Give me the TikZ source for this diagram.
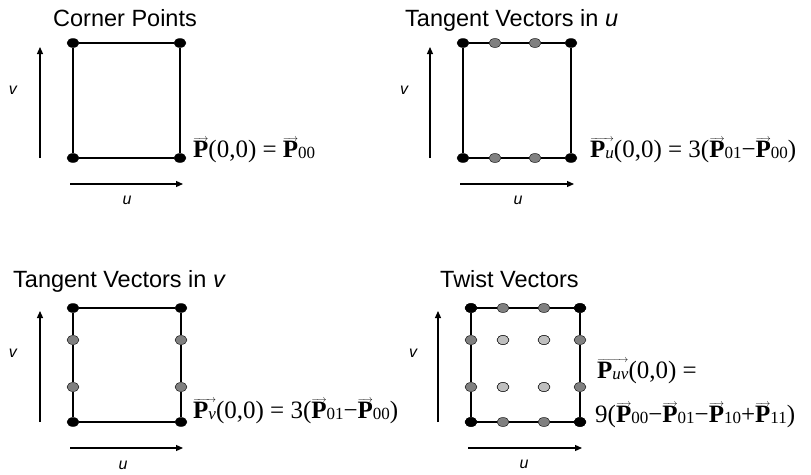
\documentclass[tikz,border=0pt]{standalone}
\usepackage{fontspec}
\setmainfont{Liberation Serif}
\newfontfamily\arialfont{Liberation Sans}
\usetikzlibrary{arrows.meta,shapes.geometric}

\newcommand{\idx}[1]{\raisebox{-1pt}{\normalfont\fontsize{17}{17}\selectfont #1}}
\newcommand{\vecP}[1][]{\setbox0\hbox{\bfseries P#1}%
  \leavevmode\vbox{\offinterlineskip
    \hbox to\wd0{\fontsize{10}{10}\selectfont\rightarrowfill}\kern-0.5pt\box0}}

\begin{document}
\begin{tikzpicture}[
  x=1pt, y=-1pt,
  title/.style={anchor=base west, inner sep=0pt, font=\arialfont\fontsize{23.5}{28}\selectfont},
  axislabel/.style={inner sep=0pt, font=\arialfont\itshape\fontsize{16}{18}\selectfont},
  eqn/.style={anchor=base west, inner sep=0pt, font=\fontsize{25}{29}\selectfont},
  cpt/.style={ellipse, draw, fill=black, minimum width=12pt, minimum height=9pt, inner sep=0pt},
  ept/.style={cpt, fill=gray},
  ipt/.style={cpt, fill=lightgray},
  edge/.style={line width=1.2pt},
  axis/.style={-{Triangle[length=7pt,width=6pt]}, line width=1.2pt}
]
  \useasboundingbox (0,0) rectangle (811,474);

  % corner points
  \node[title] (t1) at (53,26) {Corner Points};
  \node[cpt] (a00) at (73,158) {};
  \node[cpt] (a30) at (180,158) {};
  \node[cpt] (a03) at (73,43) {};
  \node[cpt] (a33) at (180,43) {};
  \draw[edge] (a00) -- (a30) -- (a33) -- (a03) -- (a00);
  \coordinate (av0) at (40,158);
  \coordinate (av1) at (40,47);
  \coordinate (au0) at (70,184);
  \coordinate (au1) at (183,184);
  \draw[axis] (av0) -- (av1);
  \draw[axis] (au0) -- (au1);
  \node[axislabel] (alv) at (13,90) {v};
  \node[axislabel] (alu) at (127,200) {u};
  \node[eqn] (eq1) at (193,157) {\vecP(0,0) = \vecP\idx{00}};

  % tangent vectors in u
  \node[title] (t2) at (405,26) {Tangent Vectors in \textit{u}};
  \node[cpt] (b00) at (463,158) {};
  \node[ept] (b10) at (495,158) {};
  \node[ept] (b20) at (535,158) {};
  \node[cpt] (b30) at (571,158) {};
  \node[cpt] (b03) at (463,43) {};
  \node[ept] (b13) at (495,43) {};
  \node[ept] (b23) at (535,43) {};
  \node[cpt] (b33) at (571,43) {};
  \draw[edge] (b00) -- (b10) -- (b20) -- (b30) -- (b33) -- (b23) -- (b13) -- (b03) -- (b00);
  \coordinate (bv0) at (430,158);
  \coordinate (bv1) at (430,47);
  \coordinate (bu0) at (460,184);
  \coordinate (bu1) at (574,184);
  \draw[axis] (bv0) -- (bv1);
  \draw[axis] (bu0) -- (bu1);
  \node[axislabel] (blv) at (404,90) {v};
  \node[axislabel] (blu) at (518,200) {u};
  \node[eqn] (eq2) at (590,157) {\vecP[\idx{\itshape u}](0,0) = 3(\vecP\idx{01}−\vecP\idx{00})};

  % tangent vectors in v
  \node[title] (t3) at (13,287) {Tangent Vectors in \textit{v}};
  \node[cpt] (c00) at (73,422) {};
  \node[ept] (c01) at (73,387) {};
  \node[ept] (c02) at (73,340) {};
  \node[cpt] (c03) at (73,308) {};
  \node[cpt] (c30) at (181,422) {};
  \node[ept] (c31) at (181,387) {};
  \node[ept] (c32) at (181,340) {};
  \node[cpt] (c33) at (181,308) {};
  \draw[edge] (c00) -- (c01) -- (c02) -- (c03) -- (c33) -- (c32) -- (c31) -- (c30) -- (c00);
  \coordinate (cv0) at (40,422);
  \coordinate (cv1) at (40,311);
  \coordinate (cu0) at (70,448);
  \coordinate (cu1) at (183,448);
  \draw[axis] (cv0) -- (cv1);
  \draw[axis] (cu0) -- (cu1);
  \node[axislabel] (clv) at (13,353) {v};
  \node[axislabel] (clu) at (123,465) {u};
  \node[eqn] (eq3) at (193,418) {\vecP[\idx{\itshape v}](0,0) = 3(\vecP\idx{01}−\vecP\idx{00})};

  % twist vectors
  \node[title] (t4) at (440,287) {Twist Vectors};
  \foreach \i/\x in {0/471,1/503,2/544,3/580}
    \foreach \j/\y in {0/422,1/387,2/340,3/308}
      \node[ept] (d\i\j) at (\x,\y) {};
  \node[cpt] (d00) at (471,422) {};
  \node[cpt] (d30) at (580,422) {};
  \node[cpt] (d03) at (471,308) {};
  \node[cpt] (d33) at (580,308) {};
  \node[ipt] (d11) at (503,387) {};
  \node[ipt] (d21) at (544,387) {};
  \node[ipt] (d12) at (503,340) {};
  \node[ipt] (d22) at (544,340) {};
  \draw[edge] (d00) -- (d10) -- (d20) -- (d30) -- (d31) -- (d32) -- (d33)
    -- (d23) -- (d13) -- (d03) -- (d02) -- (d01) -- (d00);
  \coordinate (dv0) at (438,422);
  \coordinate (dv1) at (438,311);
  \coordinate (du0) at (468,448);
  \coordinate (du1) at (582,448);
  \draw[axis] (dv0) -- (dv1);
  \draw[axis] (du0) -- (du1);
  \node[axislabel] (dlv) at (413,353) {v};
  \node[axislabel] (dlu) at (524,464) {u};
  \node[eqn] (eq4a) at (597,378) {\vecP[\idx{\itshape uv}](0,0) =};
  \node[eqn] (eq4b) at (595,422) {9(\vecP\idx{00}−\vecP\idx{01}−\vecP\idx{10}+\vecP\idx{11})};
\end{tikzpicture}
\end{document}
